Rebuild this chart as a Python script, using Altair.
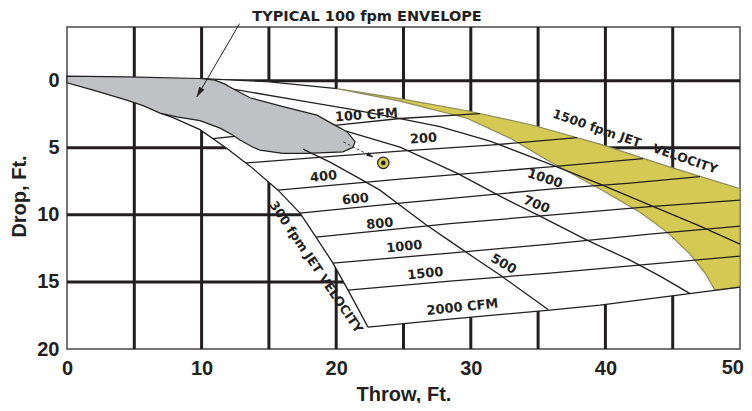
import math
import altair as alt
import pandas as pd

# ---------------- axis values ----------------
X_TICKS = [0, 10, 20, 30, 40, 50]
Y_TICKS = [0, 5, 10, 15, 20]
GRID_X = [5, 10, 15, 20, 25, 30, 35, 40, 45]
GRID_Y = [0, 5, 10, 15]

# ---------------- curves: (throw ft, drop ft) ----------------
envelope = [(0, -0.34), (4.44, -0.28), (9.88, -0.16), (11.0, -0.04), (11.74, 0.26), (12.33, 0.60),
            (13.6, 1.27), (16.05, 1.94), (18.57, 2.57), (19.76, 3.24), (20.8, 3.80), (21.4, 4.55),
            (21.25, 4.96), (20.5, 5.31), (17.83, 5.42), (16.05, 5.42), (14.34, 5.18), (13.82, 4.96),
            (12.85, 4.43), (12.33, 4.06), (11.37, 3.54), (9.88, 2.98), (8.15, 2.70), (6.91, 2.42),
            (5.65, 1.86), (4.44, 1.45), (1.95, 0.71), (0, 0.16)]

top_curve = [(9.88, -0.16), (10.85, -0.11), (14.86, 0.07), (20.06, 0.60), (24.74, 1.34),
             (29.72, 2.24), (34.62, 3.32), (39.6, 4.73), (44.58, 6.37), (50, 8.05)]
yellow_lower = [(20.06, 0.60), (24.74, 1.53), (29.72, 2.80), (32.91, 4.28), (35.66, 5.92),
                (39.6, 8.08), (42.57, 9.80), (44.58, 11.29), (46.29, 12.93), (47.4, 14.34), (48.14, 15.61)]

fpm_300 = [(6.91, 2.42), (7.88, 2.76), (9.88, 3.65), (11.86, 5.03), (13.6, 6.37), (15.68, 8.16),
           (17.31, 9.87), (18.5, 11.66), (19.76, 13.6), (20.88, 15.61), (22.36, 18.37)]
fpm_500 = [(17.53, 5.10), (19.54, 6.07), (21.55, 7.19), (23.25, 8.16), (24.74, 9.28), (26.6, 10.69),
           (28.45, 11.96), (30.31, 13.23), (32.17, 14.49), (34.03, 15.83), (35.74, 17.06)]
fpm_700 = [(20.73, 3.76), (24.74, 4.96), (28.97, 6.89), (32.17, 8.61), (35.14, 10.10), (38.63, 11.88),
           (41.83, 13.38), (44.06, 14.57), (46.29, 15.87)]
fpm_1000 = [(12.33, 0.63), (17.31, 1.49), (21.03, 2.12), (24.0, 2.68), (27.71, 3.43), (31.43, 4.51),
            (35.88, 6.22), (39.6, 7.71), (43.31, 9.28), (47.03, 10.84), (50, 12.18)]

cfm_100 = [(10.85, 4.32), (20.06, 3.32), (24.74, 2.82), (30.68, 2.45)]
cfm_200 = [(13.3, 6.13), (24.74, 5.25), (31.43, 4.81), (37.89, 4.25)]
cfm_400 = [(15.68, 8.16), (24.74, 7.34), (35.88, 6.42), (42.79, 5.81)]
cfm_600 = [(17.31, 9.87), (24.74, 9.13), (35.88, 8.08), (41.83, 7.64), (47.03, 7.15)]
cfm_800 = [(18.5, 11.66), (28.45, 10.66), (35.88, 10.02), (43.31, 9.39), (50, 8.9)]
cfm_1000 = [(19.76, 13.6), (28.45, 12.85), (35.88, 12.18), (43.31, 11.44), (50, 10.84)]
cfm_1500 = [(20.88, 15.61), (28.45, 14.94), (35.88, 14.34), (43.31, 13.67), (50, 13.08)]
cfm_2000 = [(22.36, 18.37), (28.45, 17.77), (35.88, 17.1), (39.6, 16.73), (50, 15.39)]

# ---------------- annotations ----------------
dot_point = (23.5, 6.13)
small_arrow = [(20.53, 4.56), (22.76, 5.70)]
big_arrow = [(12.82, -4.25), (9.64, 1.21)]

title_text = "TYPICAL 100 fpm ENVELOPE"
title_pos = (22.29, -4.41)

labels_text = ["100 CFM", "200", "400", "600", "800", "1000", "1500", "2000 CFM",
               "500", "700", "1000", "1500 fpm JET\u00a0\u00a0\u00a0VELOCITY", "300 fpm JET VELOCITY"]
labels_x = [22.25, 26.49, 19.06, 21.43, 23.25, 25.07, 26.63, 29.38, 32.43, 34.88, 35.51, 42.2, 18.5]
labels_y = [2.57, 4.32, 7.15, 8.83, 10.66, 12.37, 14.38, 16.88, 13.67, 9.24, 7.30, 4.55, 13.9]
labels_angle = [356, 356, 354, 354, 354, 354, 354, 354, 30, 22, 18, 19, 56]
labels_size = [13, 13, 13, 13, 13, 13, 13, 13, 13, 13, 13, 12.5, 12.5]

INK = "#231f20"
YELLOW = "#d4c952"
GREY = "#c0c1c4"
W, H = 673, 322
XD, YD = [0, 50], [-4, 20]

xs = alt.Scale(domain=XD, nice=False, zero=False)
ys = alt.Scale(domain=YD, reverse=True, nice=False, zero=False)

font_ax = "Liberation Sans"
LABEL_PAD = 9
x_axis = alt.Axis(values=X_TICKS[:-1], title="Throw, Ft.", domain=False, ticks=False, tickSize=0, grid=False,
                  labelFont=font_ax, labelFontWeight="bold", labelFontSize=20, labelColor=INK,
                  labelPadding=LABEL_PAD, labelFlush=False, labelOverlap=False, labelBound=False,
                  titleFont=font_ax, titleFontWeight="bold", titleFontSize=20, titleColor=INK,
                  titleY=45, titleBaseline="middle")
y_axis = alt.Axis(values=Y_TICKS, title="Drop, Ft.", domain=False, ticks=False, tickSize=0, grid=False,
                  labelFont=font_ax, labelFontWeight="bold", labelFontSize=20, labelColor=INK,
                  labelPadding=8, labelOverlap=False, labelBound=False, labelBaseline="middle",
                  titleFont=font_ax, titleFontWeight="bold", titleFontSize=20, titleColor=INK,
                  titleAngle=270, titleX=-48, titleY=169, titleAlign="center", titleBaseline="middle")


def to_df(pts, name=""):
    return pd.DataFrame({"x": [p[0] for p in pts], "y": [p[1] for p in pts],
                         "i": list(range(len(pts))), "curve": name})


def ex():
    return alt.X("x:Q", scale=xs, axis=x_axis)


def ey():
    return alt.Y("y:Q", scale=ys, axis=y_axis)


def polygon(pts, fill, stroke, sw):
    return alt.Chart(to_df(pts)).mark_line(
        fill=fill, stroke=stroke, strokeWidth=sw, interpolate="linear-closed"
    ).encode(x=ex(), y=ey(), order="i:Q")


def curves(named, sw=1.3, color=INK):
    df = pd.concat([to_df(p, n) for n, p in named], ignore_index=True)
    return alt.Chart(df).mark_line(stroke=color, strokeWidth=sw).encode(
        x=ex(), y=ey(), detail="curve:N", order="i:Q")


grid_v = alt.Chart(pd.DataFrame({"x": GRID_X})).mark_rule(color=INK, strokeWidth=3).encode(x=ex())
grid_h = alt.Chart(pd.DataFrame({"y": GRID_Y})).mark_rule(color=INK, strokeWidth=3).encode(y=ey())

white_region = polygon(envelope[:2] + top_curve + cfm_2000[::-1] + fpm_300[::-1] + envelope[-4:],
                       "white", "white", 0)
yellow_region = polygon([p for p in top_curve if p[0] >= yellow_lower[0][0]] + [cfm_2000[-1]] + yellow_lower[::-1],
                        YELLOW, "#8d8a5c", 1.2)

top_black = [p for p in top_curve if p[0] <= yellow_lower[0][0]]
grid_lines = curves([("top", top_black), ("300", fpm_300), ("700", fpm_700), ("1000", fpm_1000),
                     ("c100", cfm_100), ("c200", cfm_200), ("c400", cfm_400), ("c600", cfm_600),
                     ("c800", cfm_800), ("c1000", cfm_1000), ("c1500", cfm_1500), ("c2000", cfm_2000)])
env = polygon(envelope, GREY, INK, 1.2)
line_500 = curves([("500", fpm_500)])

KX = W / (XD[1] - XD[0])
KY = H / (YD[1] - YD[0])


def head_angle(p0, p1):
    dx = (p1[0] - p0[0]) * KX
    dy = (p1[1] - p0[1]) * KY
    return math.degrees(math.atan2(dx, -dy)) % 360


big_shaft = alt.Chart(to_df(big_arrow)).mark_line(stroke=INK, strokeWidth=1).encode(x=ex(), y=ey(), order="i:Q")
big_head = alt.Chart(to_df([big_arrow[1]])).mark_point(
    shape="M0,0 L0.6,2 L-0.6,2 Z", size=100, filled=True, color=INK, opacity=1,
    angle=head_angle(*big_arrow)).encode(x=ex(), y=ey())
small_shaft = alt.Chart(to_df(small_arrow)).mark_line(stroke="#444444", strokeWidth=1, strokeDash=[3, 2]).encode(
    x=ex(), y=ey(), order="i:Q")
small_head = alt.Chart(to_df([small_arrow[1]])).mark_point(
    shape="M0,0 L0.6,2 L-0.6,2 Z", size=49, filled=True, color=INK, opacity=1,
    angle=head_angle(*small_arrow)).encode(x=ex(), y=ey())

dot_outer = alt.Chart(to_df([dot_point])).mark_point(
    shape="circle", size=130, filled=True, fill=YELLOW, stroke=INK, strokeWidth=1.2, opacity=1).encode(x=ex(), y=ey())
dot_inner = alt.Chart(to_df([dot_point])).mark_point(
    shape="circle", size=22, filled=True, color=INK, opacity=1).encode(x=ex(), y=ey())

labels_df = pd.DataFrame({"text": labels_text, "x": labels_x, "y": labels_y,
                          "angle": labels_angle, "size": labels_size})
labels = alt.Chart(labels_df).mark_text(
    font="DejaVu Sans", fontWeight="bold", color=INK, align="center", baseline="middle").encode(
    x=ex(), y=ey(), text="text:N",
    angle=alt.Angle("angle:Q", scale=None),
    size=alt.Size("size:Q", scale=None))

title_df = pd.DataFrame({"text": [title_text], "x": [title_pos[0]], "y": [title_pos[1]]})
title_mark = alt.Chart(title_df).mark_text(
    font="DejaVu Sans", fontWeight="bold", fontSize=14.5, color=INK, align="center",
    baseline="alphabetic").encode(x=ex(), y=ey(), text="text:N")

# last x tick label, kept inside the page edge
last_df = pd.DataFrame({"text": [str(X_TICKS[-1])], "x": [X_TICKS[-1]], "y": [YD[1]]})
last_label = alt.Chart(last_df).mark_text(
    font=font_ax, fontWeight="bold", fontSize=20, color=INK, align="right", baseline="top",
    dx=4, dy=LABEL_PAD).encode(x=ex(), y=ey(), text="text:N")

chart = alt.layer(
    grid_v, grid_h, white_region, yellow_region, grid_lines, env, line_500,
    big_shaft, big_head, small_shaft, small_head, dot_outer, dot_inner, labels, title_mark, last_label
).properties(
    width=W, height=H, autosize="none",
    padding={"left": 59, "top": 19, "right": 4, "bottom": 54}
).configure_view(stroke="#4a4a4a", strokeWidth=1.5)

chart.save("out.html", embed_options={"renderer": "svg", "actions": False})
